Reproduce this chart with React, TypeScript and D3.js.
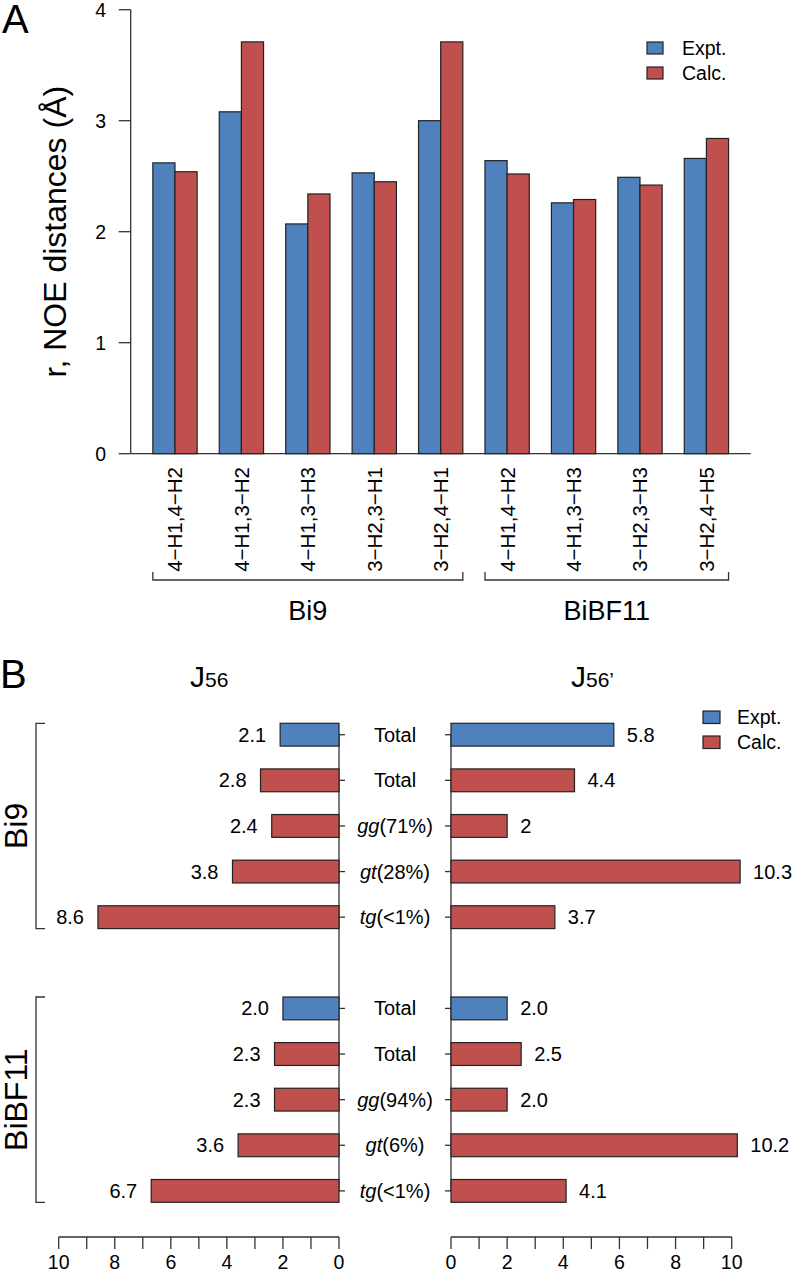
import React from "react";
import * as d3 from "d3";

// ---------- Data: panel A ----------
const pairLabels = [
  "4−H1,4−H2", "4−H1,3−H2", "4−H1,3−H3", "3−H2,3−H1", "3−H2,4−H1",
  "4−H1,4−H2", "4−H1,3−H3", "3−H2,3−H3", "3−H2,4−H5",
];
const exptNOE = [2.62, 3.08, 2.07, 2.53, 3.0, 2.64, 2.26, 2.49, 2.66];
const calcNOE = [2.54, 3.71, 2.34, 2.45, 3.71, 2.52, 2.29, 2.42, 2.84];
const yTicksA = [0, 1, 2, 3, 4];
const groupNames = ["Bi9", "BiBF11"];
const groupStart = [0, 5];
const groupEnd = [4, 8];

// ---------- Data: panel B ----------
const rowItalic = ["", "", "gg", "gt", "tg", "", "", "gg", "gt", "tg"];
const rowRest = ["Total", "Total", "(71%)", "(28%)", "(<1%)", "Total", "Total", "(94%)", "(6%)", "(<1%)"];
const rowKind = ["Expt.", "Calc.", "Calc.", "Calc.", "Calc.", "Expt.", "Calc.", "Calc.", "Calc.", "Calc."];
const j56 = [2.1, 2.8, 2.4, 3.8, 8.6, 2.0, 2.3, 2.3, 3.6, 6.7];
const j56Labels = ["2.1", "2.8", "2.4", "3.8", "8.6", "2.0", "2.3", "2.3", "3.6", "6.7"];
const j56p = [5.8, 4.4, 2, 10.3, 3.7, 2.0, 2.5, 2.0, 10.2, 4.1];
const j56pLabels = ["5.8", "4.4", "2", "10.3", "3.7", "2.0", "2.5", "2.0", "10.2", "4.1"];
const xTicksB = [0, 1, 2, 3, 4, 5, 6, 7, 8, 9, 10];
const groupRowsB = [[0, 4], [5, 9]];

const BLUE = "#4F81BD";
const RED = "#C0504D";
const AX = "#333";
const FONT = "'Liberation Sans', Arial, Helvetica, sans-serif";

export default function App() {
  // Panel A scales
  const xU = d3.scaleLinear().domain([0, 28]).range([130.7, 750.7]);
  const yA = d3.scaleLinear().domain([0, 4]).range([453.7, 9.7]);
  const gStart = (i: number) => 1 + 3 * i;

  // Panel B scales
  const rowU = d3.scaleLinear().domain([0, 21]).range([723.3, 1202.3]);
  const rowTop = (i: number) => (i < 5 ? 2 * i : 2 * i + 2);
  const rowC = (i: number) => rowU(rowTop(i) + 0.5);
  const xL = d3.scaleLinear().domain([0, 10]).range([339, 58.7]);
  const xR = d3.scaleLinear().domain([0, 10]).range([451, 731.7]);
  const colorOf = (k: string) => (k === "Expt." ? BLUE : RED);

  return (
    <svg
      width={793}
      height={1272}
      style={{ position: "absolute", left: 0, top: 0, background: "#fff" }}
      fontFamily={FONT}
    >
      <rect x={0} y={0} width={793} height={1272} fill="#fff" />
      {/* ================= Panel A ================= */}
      <text x={2} y={33} fontSize={40}>A</text>
      {/* y axis */}
      <line x1={xU(0)} x2={xU(0)} y1={yA(0)} y2={yA(4)} stroke={AX} strokeWidth={1.3} />
      {yTicksA.map((t) => (
        <g key={"ya" + t}>
          <line x1={xU(0) - 12} x2={xU(0)} y1={yA(t)} y2={yA(t)} stroke={AX} strokeWidth={1.3} />
          <text x={106} y={yA(t)} dy="0.35em" textAnchor="end" fontSize={19.5}>{t}</text>
        </g>
      ))}
      <text
        transform={`translate(66, ${(yA(0) + yA(4)) / 2}) rotate(-90)`}
        textAnchor="middle"
        fontSize={32}
      >
        r, NOE distances (Å)
      </text>
      {/* baseline */}
      <line x1={xU(0)} x2={xU(28)} y1={yA(0)} y2={yA(0)} stroke={AX} strokeWidth={1.3} />
      {/* bars */}
      {pairLabels.map((lab, i) => (
        <g key={"ga" + i}>
          <rect
            x={xU(gStart(i))}
            y={yA(exptNOE[i])}
            width={xU(gStart(i) + 1) - xU(gStart(i))}
            height={yA(0) - yA(exptNOE[i])}
            fill={BLUE}
            stroke="#222"
            strokeWidth={1.2}
          />
          <rect
            x={xU(gStart(i) + 1)}
            y={yA(calcNOE[i])}
            width={xU(gStart(i) + 2) - xU(gStart(i) + 1)}
            height={yA(0) - yA(calcNOE[i])}
            fill={RED}
            stroke="#222"
            strokeWidth={1.2}
          />
          <text
            transform={`translate(${xU(gStart(i) + 1)}, 467) rotate(-90)`}
            textAnchor="end"
            dy="0.36em"
            fontSize={20.5}
          >
            {lab}
          </text>
        </g>
      ))}
      {/* group brackets */}
      {groupNames.map((g, k) => {
        const x1 = xU(gStart(groupStart[k]));
        const x2 = xU(gStart(groupEnd[k]) + 2);
        return (
          <g key={"br" + k}>
            <path
              d={`M${x1},572 V580 H${x2} V572`}
              fill="none"
              stroke={AX}
              strokeWidth={1.3}
            />
            <text x={(x1 + x2) / 2} y={620} textAnchor="middle" fontSize={27}>{g}</text>
          </g>
        );
      })}
      {/* legend A */}
      {["Expt.", "Calc."].map((k, i) => (
        <g key={"lga" + k}>
          <rect x={647} y={42 + i * 25} width={16} height={12} fill={colorOf(k)} stroke="#222" strokeWidth={1.2} />
          <text x={682} y={48 + i * 25} dy="0.35em" fontSize={19.5}>{k}</text>
        </g>
      ))}

      {/* ================= Panel B ================= */}
      <text x={0} y={688} fontSize={40}>B</text>
      <text x={190} y={687} fontSize={30}>
        J<tspan fontSize={21}>56</tspan>
      </text>
      <text x={571} y={687} fontSize={30}>
        J<tspan fontSize={21}>56’</tspan>
      </text>
      {/* legend B */}
      {["Expt.", "Calc."].map((k, i) => (
        <g key={"lgb" + k}>
          <rect x={703} y={711 + i * 25} width={17} height={12.5} fill={colorOf(k)} stroke="#222" strokeWidth={1.2} />
          <text x={737} y={717 + i * 25} dy="0.35em" fontSize={19.5}>{k}</text>
        </g>
      ))}
      {/* vertical axes */}
      <line x1={xL(0)} x2={xL(0)} y1={rowC(0)} y2={rowC(9)} stroke={AX} strokeWidth={1.3} />
      <line x1={xR(0)} x2={xR(0)} y1={rowC(0)} y2={rowC(9)} stroke={AX} strokeWidth={1.3} />
      {rowRest.map((r, i) => (
        <g key={"rb" + i}>
          <line x1={xL(0)} x2={xL(0) + 6} y1={rowC(i)} y2={rowC(i)} stroke={AX} strokeWidth={1.3} />
          <line x1={xR(0) - 6} x2={xR(0)} y1={rowC(i)} y2={rowC(i)} stroke={AX} strokeWidth={1.3} />
          <rect
            x={xL(j56[i])}
            y={rowU(rowTop(i))}
            width={xL(0) - xL(j56[i])}
            height={rowU(rowTop(i) + 1) - rowU(rowTop(i))}
            fill={colorOf(rowKind[i])}
            stroke="#222"
            strokeWidth={1.2}
          />
          <rect
            x={xR(0)}
            y={rowU(rowTop(i))}
            width={xR(j56p[i]) - xR(0)}
            height={rowU(rowTop(i) + 1) - rowU(rowTop(i))}
            fill={colorOf(rowKind[i])}
            stroke="#222"
            strokeWidth={1.2}
          />
          <text x={xL(j56[i]) - 14} y={rowC(i)} dy="0.35em" textAnchor="end" fontSize={20}>
            {j56Labels[i]}
          </text>
          <text x={xR(j56p[i]) + 13} y={rowC(i)} dy="0.35em" textAnchor="start" fontSize={20}>
            {j56pLabels[i]}
          </text>
          <text x={(xL(0) + xR(0)) / 2} y={rowC(i)} dy="0.35em" textAnchor="middle" fontSize={20}>
            {rowItalic[i] ? <tspan fontStyle="italic">{rowItalic[i]}</tspan> : null}
            {r}
          </text>
        </g>
      ))}
      {/* group brackets B */}
      {groupRowsB.map(([a, b], k) => {
        const y1 = rowU(rowTop(a));
        const y2 = rowU(rowTop(b) + 1);
        return (
          <g key={"bb" + k}>
            <path d={`M45,${y1} H36 V${y2} H45`} fill="none" stroke={AX} strokeWidth={1.3} />
            <text
              transform={`translate(27, ${(y1 + y2) / 2}) rotate(-90)`}
              textAnchor="middle"
              fontSize={32}
            >
              {groupNames[k]}
            </text>
          </g>
        );
      })}
      {/* bottom axes */}
      {[xL, xR].map((sc, k) => (
        <g key={"bx" + k}>
          <line x1={sc(0)} x2={sc(10)} y1={1237} y2={1237} stroke={AX} strokeWidth={1.3} />
          {xTicksB.map((t) => (
            <line key={t} x1={sc(t)} x2={sc(t)} y1={1237} y2={1249} stroke={AX} strokeWidth={1.3} />
          ))}
          {xTicksB.filter((t) => t % 2 === 0).map((t) => (
            <text key={"l" + t} x={sc(t)} y={1262} dy="0.35em" textAnchor="middle" fontSize={19.5}>
              {t}
            </text>
          ))}
        </g>
      ))}
    </svg>
  );
}
